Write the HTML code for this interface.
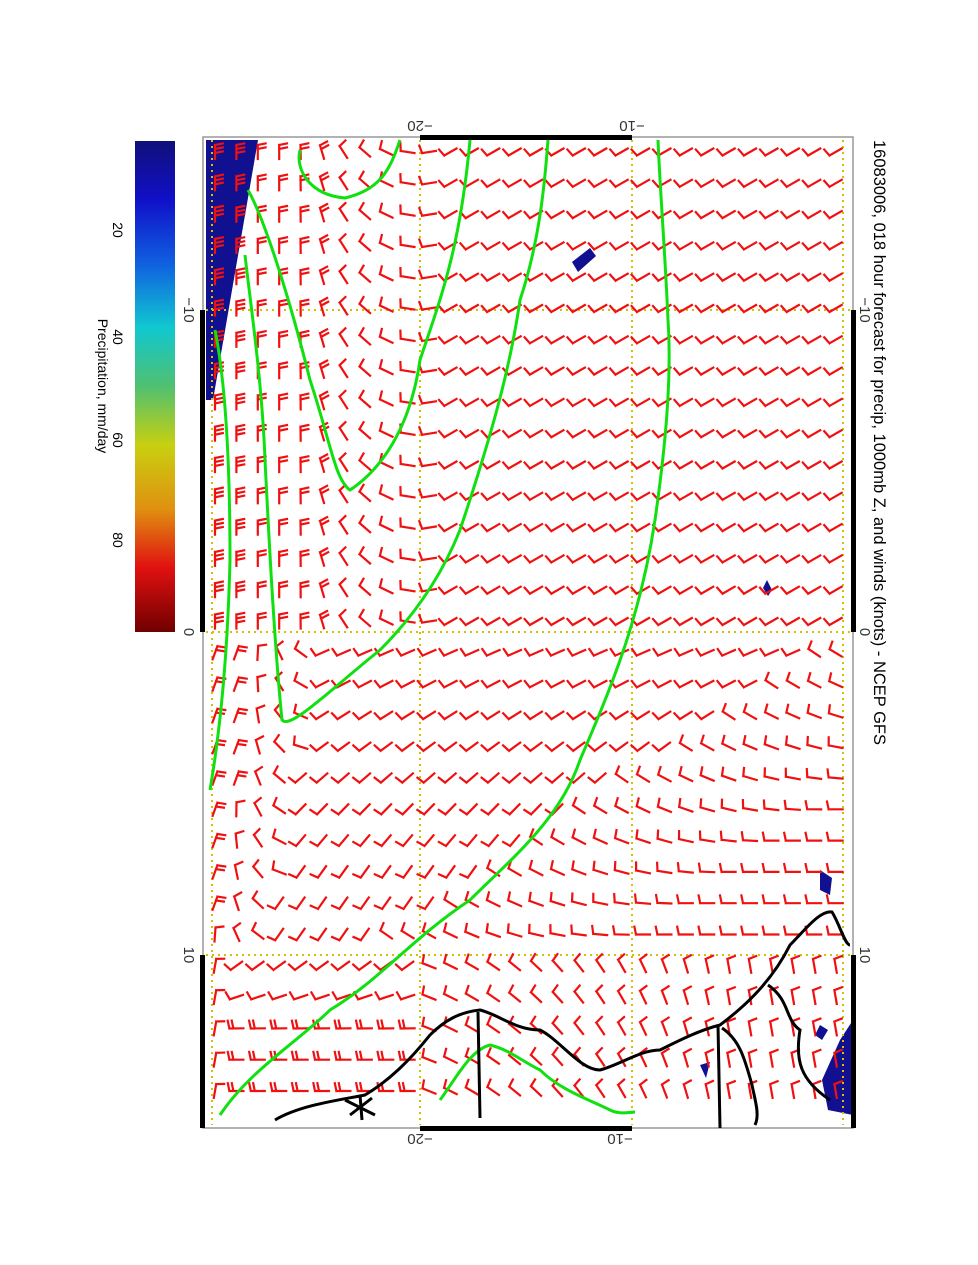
<!DOCTYPE html>
<html><head><meta charset="utf-8">
<style>
html,body{margin:0;padding:0;background:#fff;}
svg{display:block;font-family:"Liberation Sans",sans-serif;}
</style></head>
<body>
<svg id="s" width="978" height="1265" viewBox="0 0 978 1265" xmlns="http://www.w3.org/2000/svg">
<defs>
<linearGradient id="cb" x1="0" y1="0" x2="0" y2="1">
<stop offset="0" stop-color="#10107a"/>
<stop offset="0.12" stop-color="#1010c8"/>
<stop offset="0.25" stop-color="#1060e0"/>
<stop offset="0.38" stop-color="#10c8d0"/>
<stop offset="0.5" stop-color="#50c070"/>
<stop offset="0.62" stop-color="#c8d010"/>
<stop offset="0.75" stop-color="#e09010"/>
<stop offset="0.87" stop-color="#e01010"/>
<stop offset="1" stop-color="#700000"/>
</linearGradient>
</defs>
<rect x="135" y="141" width="40" height="491" fill="url(#cb)"/>
<g font-size="14" fill="#000">
<text transform="translate(113,230) rotate(90)" text-anchor="middle">20</text>
<text transform="translate(113,337) rotate(90)" text-anchor="middle">40</text>
<text transform="translate(113,440) rotate(90)" text-anchor="middle">60</text>
<text transform="translate(113,540) rotate(90)" text-anchor="middle">80</text>
<text transform="translate(98,386) rotate(90)" text-anchor="middle">Precipitation, mm/day</text>
</g>
<text transform="translate(874,140) rotate(90)" font-size="16.5" fill="#000">16083006, 018 hour forecast for precip, 1000mb Z, and winds (knots) - NCEP GFS</text>
<rect x="203" y="137" width="650" height="991" fill="#fff" stroke="#999" stroke-width="1.5"/>
<polygon points="206,140 258,140 213,400 206,400" fill="#101090"/>
<polygon points="767,580 772,590 768,596 763,588" fill="#101090"/>
<polygon points="572,262 590,248 596,256 578,272" fill="#101090"/>
<polygon points="820,870 832,878 830,895 820,890" fill="#101090"/>
<polygon points="853,1020 840,1040 822,1080 828,1110 853,1115" fill="#101090"/>
<polygon points="820,1025 828,1030 822,1040 815,1035" fill="#101090"/>
<polygon points="700,1065 710,1062 706,1078" fill="#101090"/>
<g stroke="#d4c000" stroke-width="2" stroke-dasharray="2,4" fill="none">
<line x1="212" y1="140" x2="212" y2="1125"/>
<line x1="420" y1="140" x2="420" y2="1125"/>
<line x1="632" y1="140" x2="632" y2="1125"/>
<line x1="843" y1="140" x2="843" y2="1125"/>
<line x1="206" y1="310" x2="850" y2="310"/>
<line x1="206" y1="632" x2="850" y2="632"/>
<line x1="206" y1="955" x2="850" y2="955"/>
</g>
<g fill="#000">
<rect x="420" y="135" width="212" height="5"/>
<rect x="420" y="1126" width="212" height="5"/>
<rect x="200" y="310" width="5" height="322"/>
<rect x="200" y="955" width="5" height="173"/>
<rect x="851" y="310" width="5" height="322"/>
<rect x="851" y="955" width="5" height="173"/>
</g>
<g font-size="15" fill="#333">
<text transform="translate(420,121) rotate(180)" text-anchor="middle">−20</text>
<text transform="translate(632,121) rotate(180)" text-anchor="middle">−10</text>
<text transform="translate(420,1134) rotate(180)" text-anchor="middle">−20</text>
<text transform="translate(620,1134) rotate(180)" text-anchor="middle">−10</text>
<text transform="translate(184,310) rotate(90)" text-anchor="middle">−10</text>
<text transform="translate(184,632) rotate(90)" text-anchor="middle">0</text>
<text transform="translate(184,955) rotate(90)" text-anchor="middle">10</text>
<text transform="translate(860,310) rotate(90)" text-anchor="middle">−10</text>
<text transform="translate(860,632) rotate(90)" text-anchor="middle">0</text>
<text transform="translate(860,955) rotate(90)" text-anchor="middle">10</text>
</g>
<g id="barbs" stroke="#f01010" stroke-width="2.2" fill="none" stroke-linecap="square"></g>
<g stroke="#10e010" stroke-width="3" fill="none">
<path d="M400,140 C390,170 380,190 345,198 C310,195 295,170 300,150"/>
<path d="M248,190 C265,220 290,300 310,380 C330,440 335,480 350,490 C380,470 410,430 420,360 C440,300 460,250 470,140"/>
<path d="M245,255 C250,300 262,380 265,460 C270,560 275,650 282,720 C290,730 330,690 380,650 C410,620 440,580 460,530 C490,440 510,370 520,300 C540,240 545,180 548,140"/>
<path d="M215,330 C225,380 230,460 230,560 C228,640 222,720 210,790"/>
<path d="M658,140 C660,190 665,250 668,320 C672,380 665,450 655,520 C640,620 610,690 580,760 C560,820 510,860 470,900 C410,940 380,980 330,1010 C300,1040 250,1070 220,1115"/>
<path d="M440,1100 C455,1080 470,1050 490,1045 C510,1050 520,1060 540,1070 C560,1090 590,1100 610,1110 C620,1115 630,1112 635,1112"/>
</g>
<g stroke="#000" stroke-width="3" fill="none">
<path d="M275,1120 C300,1105 340,1100 365,1095 C390,1080 410,1060 430,1035 C445,1020 460,1012 480,1010 C500,1015 515,1030 540,1030 C560,1040 580,1070 600,1070 C620,1065 640,1050 660,1050 C680,1040 700,1030 720,1025 C740,1010 770,985 790,945 C805,930 820,910 832,912 C840,925 845,945 850,945"/>
<path d="M478,1012 L480,1118"/>
<path d="M718,1025 L720,1128"/>
<path d="M722,1028 C740,1040 745,1060 752,1085 C755,1100 760,1115 755,1125"/>
<path d="M768,985 C790,1000 785,1020 800,1030 C795,1060 800,1080 830,1100"/>
<path d="M345,1100 L375,1115 M350,1115 L372,1098 M360,1095 L362,1120"/>
</g>
</svg>
<script>
(function(){
var g=document.getElementById('barbs');
var NS='http://www.w3.org/2000/svg';
function lerp(a,b,t){t=Math.max(0,Math.min(1,t));return a+(b-a)*t;}
for(var c=0;c<30;c++){for(var r=0;r<31;r++){
 var x=215+c*21.4, y=152+r*31.3;
 if(y>1118||x>846)continue;
 var a,n=1;
 if(y<630){
   if(x<300){a=90;n=(x<250?3:2);}
   else if(x<420){a=lerp(90,0,(x-300)/120);n=(x<340?2:1);}
   else{a=lerp(0,-30,(x-420)/30);}
 } else if(y<950){
   var xb=840-(y-630)*1.5;
   var xf=260-(y-630)*0.15;
   if(x<xf){a=110;n=2;}
   else if(x<xf+60){a=lerp(95,15,(x-xf)/60);}
   else if(x<xb){a=lerp(-20,-55,(y-630)/250);}
   else{a=lerp(35,0,(x-xb)/250);}
 } else {
   if(x<225){a=100;}
   else if(x<420){a=lerp(-45,0,(y-950)/80);n=(y>1000?2:1);}
   else{a=lerp(20,80,(x-420)/300);}
 }
 var rad=a*Math.PI/180, L=14;
 var x1=x-Math.cos(rad)*L/2, y1=y-Math.sin(rad)*L/2;
 var x2=x+Math.cos(rad)*L/2, y2=y+Math.sin(rad)*L/2;
 var d='M'+x1.toFixed(1)+','+y1.toFixed(1)+'L'+x2.toFixed(1)+','+y2.toFixed(1);
 var pr=rad-Math.PI/2-0.2;
 for(var k=0;k<n;k++){
   var bx=x1+Math.cos(rad)*k*4, by=y1+Math.sin(rad)*k*4;
   d+='M'+bx.toFixed(1)+','+by.toFixed(1)+'l'+(Math.cos(pr)*8).toFixed(1)+','+(Math.sin(pr)*8).toFixed(1);
 }
 var p=document.createElementNS(NS,'path');
 p.setAttribute('d',d);
 g.appendChild(p);
}}
})();
</script>
</body></html>
